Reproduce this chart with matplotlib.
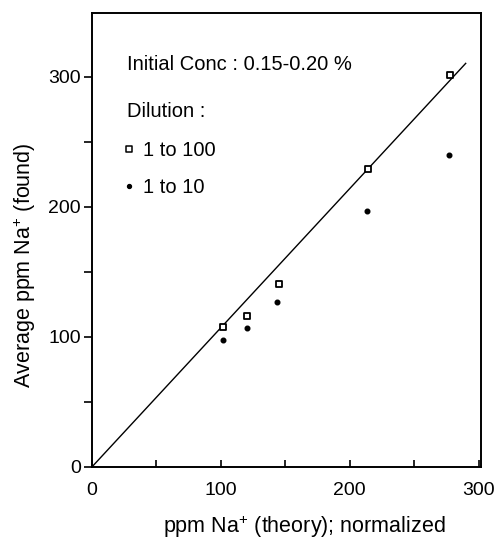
import matplotlib
matplotlib.use("Agg")
import matplotlib.pyplot as plt
import numpy as np

plt.rcParams['font.family'] = ['Liberation Sans', 'DejaVu Sans']
plt.rcParams['mathtext.fontset'] = 'custom'
plt.rcParams['mathtext.rm'] = 'Liberation Sans'

theory_100 = [102, 120, 145, 214, 277.5]
found_100 = [107.5, 116, 140.5, 229, 301.5]
theory_10 = [102, 120, 144, 213.5, 277]
found_10 = [97.7, 106.7, 127, 197, 240]
line_x = [0, 290]
slope = 1.07
xticks_major = [0, 100, 200, 300]
yticks_major = [0, 100, 200, 300]

fig = plt.figure(figsize=(4.94, 5.43), dpi=100)
ax = fig.add_axes([0.186, 0.140, 0.788, 0.836])

lx = np.array(line_x)
ax.plot(lx, slope * lx, color='black', lw=1.0, zorder=1)
ax.scatter(theory_100, found_100, marker='s', s=24, facecolor='white',
           edgecolor='black', linewidths=1.3, zorder=3)
ax.scatter(theory_10, found_10, marker='o', s=11, color='black', zorder=3)

ax.set_xlim(0, 302)
ax.set_ylim(0, 349)
ax.set_xticks(xticks_major)
ax.set_yticks(yticks_major)
ax.set_xticks([50, 150, 250], minor=True)
ax.set_yticks([50, 150, 250], minor=True)
ax.tick_params(axis='x', which='both', direction='in', length=5, width=1.2, labelsize=14, pad=11)
ax.tick_params(axis='y', which='both', direction='out', length=6, width=1.2, labelsize=14, pad=2)
for s in ax.spines.values():
    s.set_linewidth(1.4)

ax.set_xlabel('ppm Na$^{+}$ (theory); normalized', fontsize=15.5, va='center')
ax.xaxis.set_label_coords(0.545, -0.132)
ax.set_ylabel('Average ppm Na$^{+}$ (found)', fontsize=15.5, va='center')
ax.yaxis.set_label_coords(-0.172, 0.445)

ax.text(0.091, 0.874, 'Initial Conc : 0.15-0.20 %', transform=ax.transAxes, fontsize=14.5)
ax.text(0.091, 0.770, 'Dilution :', transform=ax.transAxes, fontsize=14.5)
ax.scatter([0.095], [0.700], transform=ax.transAxes, marker='s', s=14, facecolor='white',
           edgecolor='black', linewidths=1.1, clip_on=False)
ax.text(0.132, 0.686, '1 to 100', transform=ax.transAxes, fontsize=14.5)
ax.scatter([0.095], [0.619], transform=ax.transAxes, marker='o', s=8, color='black', clip_on=False)
ax.text(0.132, 0.604, '1 to 10', transform=ax.transAxes, fontsize=14.5)

fig.savefig('out.png', dpi=100)
